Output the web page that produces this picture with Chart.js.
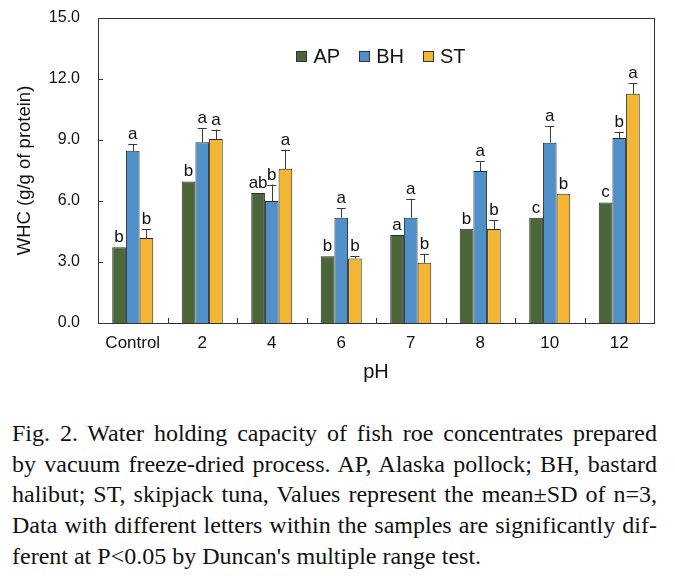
<!DOCTYPE html>
<html>
<head>
<meta charset="utf-8">
<script src="https://cdn.jsdelivr.net/npm/chart.js@4"></script>
<style>
  html, body { margin: 0; padding: 0; background: #fff; }
  #wrap { position: relative; width: 675px; height: 586px; overflow: hidden; }
  canvas { position: absolute; left: 0; top: 0; }
  #cap { position: absolute; left: 12px; top: 418px; width: 645px;
         font-family: "Liberation Serif", "Times New Roman", serif; font-size: 24px;
         line-height: 30.7px; color: #111; }
  #cap div { white-space: nowrap; text-align: justify; text-align-last: justify; }
  #cap div.last { text-align-last: left; }
</style>
</head>
<body>
<div id="wrap">
<canvas id="c" width="675" height="400"></canvas>
<div id="cap">
<div>Fig. 2. Water holding capacity of fish roe concentrates prepared</div>
<div>by vacuum freeze-dried process. AP, Alaska pollock; BH, bastard</div>
<div>halibut; ST, skipjack tuna, Values represent the mean±SD of n=3,</div>
<div>Data with different letters within the samples are significantly dif-</div>
<div class="last">ferent at P&lt;0.05 by Duncan's multiple range test.</div>
</div>
</div>
<script>
const categories = ['Control', '2', '4', '6', '7', '8', '10', '12'];
const seriesNames = ['AP', 'BH', 'ST'];
const apValues = [3.73, 6.96, 6.39, 3.28, 4.33, 4.64, 5.18, 5.93];
const bhValues = [8.47, 8.89, 6.00, 5.18, 5.18, 7.48, 8.87, 9.10];
const stValues = [4.18, 9.05, 7.58, 3.17, 2.96, 4.62, 6.36, 11.27];
const apSD = [0, 0, 0, 0, 0, 0, 0, 0];
const bhSD = [0.32, 0.70, 0.81, 0.47, 0.93, 0.48, 0.82, 0.30];
const stSD = [0.42, 0.46, 0.95, 0.13, 0.44, 0.44, 0.00, 0.52];
const apLetters = ['b', 'b', 'ab', 'b', 'a', 'b', 'c', 'c'];
const bhLetters = ['a', 'a', 'b', 'a', 'a', 'a', 'a', 'b'];
const stLetters = ['b', 'a', 'a', 'b', 'b', 'b', 'b', 'a'];
const yTicks = [0, 3, 6, 9, 12, 15];

const colors = ['#4b6638', '#4f90c9', '#f3b534'];
const SANS = '"Liberation Sans", Arial, Helvetica, sans-serif';

const sds = [apSD, bhSD, stSD];
const letters = [apLetters, bhLetters, stLetters];

const overlay = {
  id: 'overlay',
  afterDatasetsDraw(chart) {
    const ctx = chart.ctx;
    const ys = chart.scales.y, xs = chart.scales.x;
    const a = chart.chartArea;
    ctx.save();
    chart.data.datasets.forEach((ds, i) => {
      const meta = chart.getDatasetMeta(i);
      meta.data.forEach((bar, j) => {
        const v = ds.data[j];
        const sd = sds[i][j];
        let topY = bar.y;
        if (sd > 0) {
          const ye = ys.getPixelForValue(v + sd);
          ctx.strokeStyle = '#3a3a3a';
          ctx.lineWidth = 1;
          ctx.beginPath();
          ctx.moveTo(Math.round(bar.x) + 0.5, bar.y);
          ctx.lineTo(Math.round(bar.x) + 0.5, ye);
          ctx.moveTo(bar.x - 4.5, Math.round(ye) + 0.5);
          ctx.lineTo(bar.x + 4.5, Math.round(ye) + 0.5);
          ctx.stroke();
          topY = ye;
        }
        ctx.fillStyle = '#111';
        ctx.font = '17px ' + SANS;
        ctx.textAlign = 'center';
        ctx.textBaseline = 'alphabetic';
        ctx.fillText(letters[i][j], bar.x, topY - 5);
      });
    });
    ctx.strokeStyle = '#333';
    ctx.lineWidth = 1;
    ctx.strokeRect(Math.round(a.left) + 0.5, Math.round(a.top) + 0.5,
                   Math.round(a.right - a.left), Math.round(a.bottom - a.top));
    ctx.beginPath();
    ys.ticks.forEach(t => {
      const y = Math.round(ys.getPixelForValue(t.value)) + 0.5;
      ctx.moveTo(a.left, y);
      ctx.lineTo(a.left + 5, y);
    });
    for (let i = 1; i < categories.length; i++) {
      const x = Math.round((xs.getPixelForValue(i - 1) + xs.getPixelForValue(i)) / 2) + 0.5;
      ctx.moveTo(x, a.bottom);
      ctx.lineTo(x, a.bottom - 5);
    }
    ctx.stroke();
    ctx.font = '20px ' + SANS;
    ctx.textBaseline = 'middle';
    ctx.textAlign = 'left';
    const box = 11, gapText = 6, gapItem = 19;
    let total = 0;
    const widths = seriesNames.map(n => ctx.measureText(n).width);
    widths.forEach((w, k) => { total += box + gapText + w + (k < widths.length - 1 ? gapItem : 0); });
    let x = (a.left + a.right) / 2 + 5 - total / 2;
    const cy = 57;
    seriesNames.forEach((n, k) => {
      ctx.fillStyle = colors[k];
      ctx.fillRect(Math.round(x), cy - 6, box, box);
      ctx.strokeStyle = '#333';
      ctx.strokeRect(Math.round(x) + 0.5, cy - 6 + 0.5, box - 1, box - 1);
      ctx.fillStyle = '#111';
      ctx.fillText(n, x + box + gapText, cy);
      x += box + gapText + widths[k] + gapItem;
    });
    ctx.restore();
  }
};

new Chart(document.getElementById('c'), {
  type: 'bar',
  data: {
    labels: categories,
    datasets: [
      { label: seriesNames[0], data: apValues, backgroundColor: colors[0] },
      { label: seriesNames[1], data: bhValues, backgroundColor: colors[1] },
      { label: seriesNames[2], data: stValues, backgroundColor: colors[2] }
    ].map(d => Object.assign(d, { borderColor: '#2a2a2a', borderWidth: 1,
                                  categoryPercentage: 0.59, barPercentage: 1.0 }))
  },
  options: {
    responsive: false,
    animation: false,
    events: [],
    layout: { padding: { top: 18, right: 21, left: 0, bottom: 0 } },
    plugins: { legend: { display: false }, tooltip: { enabled: false } },
    scales: {
      x: {
        grid: { display: false, drawTicks: false },
        border: { display: false },
        ticks: { color: '#111', font: { family: SANS, size: 17 }, padding: 10, maxRotation: 0 },
        title: { display: true, text: 'pH', color: '#111',
                 font: { family: SANS, size: 20, lineHeight: 1.2 }, padding: { top: 0, bottom: 16 } },
        afterFit(s) { s.height = 77; s.paddingLeft = 0; s.paddingRight = 0; }
      },
      y: {
        min: 0, max: 15,
        afterBuildTicks(s) { s.ticks = yTicks.map(v => ({ value: v })); },
        grid: { display: false, drawTicks: false },
        border: { display: false },
        ticks: { color: '#111', font: { family: SANS, size: 16 }, padding: 18,
                 callback: v => Number(v).toFixed(1) },
        title: { display: true, text: 'WHC (g/g of protein)', color: '#111',
                 font: { family: SANS, size: 18.5, lineHeight: 1.2 }, padding: { top: 14, bottom: 0 } },
        afterFit(s) { s.width = 98; s.paddingTop = 0; s.paddingBottom = 0; }
      }
    }
  },
  plugins: [overlay]
});
</script>
</body>
</html>
